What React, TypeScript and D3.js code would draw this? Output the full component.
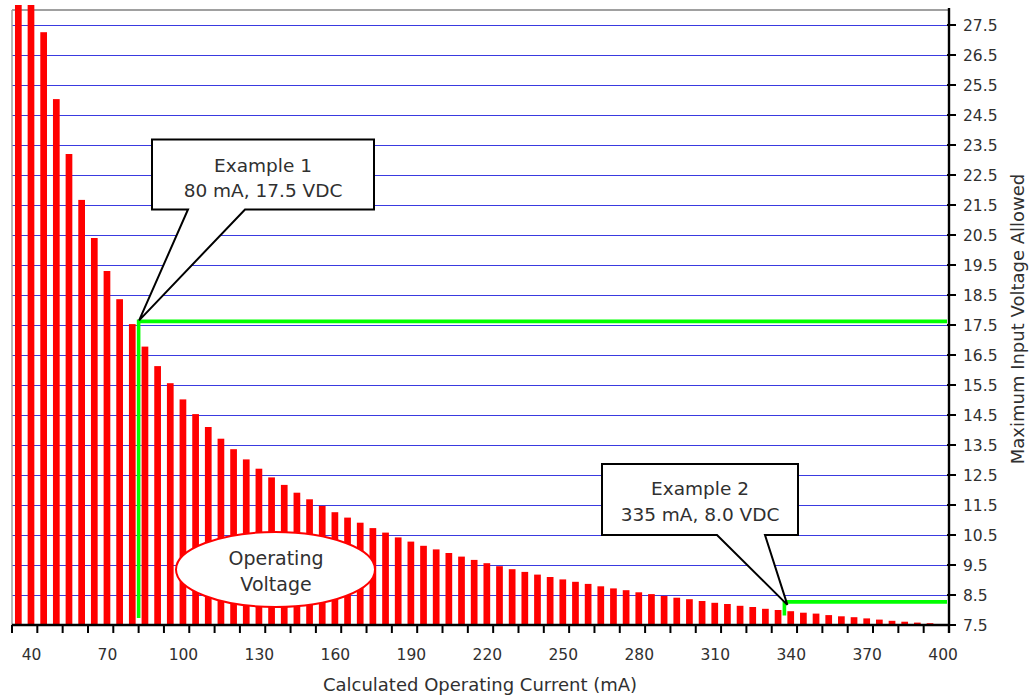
import React from 'react';
import * as d3 from 'd3';

const currents = [
  35, 40, 45, 50, 55, 60, 65, 70, 75, 80, 85, 90, 95, 100, 105, 110, 115, 120, 125, 130,
  135, 140, 145, 150, 155, 160, 165, 170, 175, 180, 185, 190, 195, 200, 205, 210, 215, 220,
  225, 230, 235, 240, 245, 250, 255, 260, 265, 270, 275, 280, 285, 290, 295, 300, 305, 310,
  315, 320, 325, 330, 335, 340, 345, 350, 355, 360, 365, 370, 375, 380, 385, 390, 395, 400,
];

const voltages = [
  33.6, 30.0, 27.26, 25.03, 23.2, 21.67, 20.4, 19.3, 18.36, 17.53, 16.78, 16.13, 15.56, 15.02,
  14.53, 14.1, 13.71, 13.36, 13.02, 12.71, 12.42, 12.17, 11.91, 11.69, 11.47, 11.26, 11.08,
  10.91, 10.73, 10.58, 10.42, 10.28, 10.14, 10.02, 9.9, 9.78, 9.67, 9.56, 9.46, 9.36, 9.27,
  9.18, 9.1, 9.02, 8.94, 8.87, 8.79, 8.72, 8.66, 8.59, 8.53, 8.47, 8.41, 8.36, 8.3, 8.24, 8.2,
  8.14, 8.1, 8.04, 8.0, 7.96, 7.91, 7.88, 7.83, 7.79, 7.76, 7.72, 7.68, 7.64, 7.61, 7.58, 7.56,
  7.53,
];

const xTickLabels = [40, 70, 100, 130, 160, 190, 220, 250, 280, 310, 340, 370, 400];
const yTicks = [
  7.5, 8.5, 9.5, 10.5, 11.5, 12.5, 13.5, 14.5, 15.5, 16.5, 17.5, 18.5, 19.5, 20.5, 21.5, 22.5,
  23.5, 24.5, 25.5, 26.5, 27.5,
];
const gridValues = yTicks.slice(1);

// annotations: current, stated voltage, drawn level of the marker line
const example1 = { current: 80, voltage: 17.5, level: 17.62 };
const example2 = { current: 335, voltage: 8.0, level: 8.27 };

const W = 1036;
const H = 698;
const P = { left: 12, right: 949, top: 10, bottom: 625 };
const FONT = "'DejaVu Sans', Verdana, sans-serif";
const TXT = '#303030';

export default function App() {
  const x = d3
    .scaleBand<number>()
    .domain(currents)
    .range([P.left, P.right])
    .paddingInner(0.47)
    .paddingOuter(0.235);
  const y = d3.scaleLinear().domain([7.5, 28]).range([P.bottom, P.top]);
  const bw = x.bandwidth();
  const step = x.step();
  const halfGap = (step - bw) / 2;

  const tickXs: number[] = [];
  currents.forEach((c, i) => {
    if (i % 2 === 0) tickXs.push((x(c) as number) - halfGap);
  });
  tickXs.push(P.right);

  const data = currents.map((c, i) => ({ c, v: voltages[i] }));

  const ex1x = (x(example1.current) as number) + bw + halfGap;
  const ex1y = y(example1.level);
  const ex2x = (x(example2.current) as number) + bw + halfGap;
  const ex2y = y(example2.level);

  const callout = (l: number, t: number, r: number, b: number, tl: number, tr: number, px: number, py: number) =>
    `M${l},${t}L${r},${t}L${r},${b}L${tr},${b}L${px},${py}L${tl},${b}L${l},${b}Z`;

  return (
    <svg
      width={W}
      height={H}
      style={{ position: 'absolute', left: 0, top: 0, background: '#fff' }}
      fontFamily={FONT}
    >
      <defs>
        <clipPath id="barclip">
          <rect x={P.left} y={P.top - 5} width={P.right - P.left} height={P.bottom - P.top + 5} />
        </clipPath>
      </defs>
      <rect x={0} y={0} width={W} height={H} fill="#fff" />

      {/* grid */}
      {gridValues.map((g) => (
        <line
          key={g}
          x1={P.left}
          x2={P.right - 2}
          y1={y(g) + 0.5}
          y2={y(g) + 0.5}
          stroke="#3a3ae0"
          strokeWidth={1}
          shapeRendering="crispEdges"
        />
      ))}

      {/* plot border (gray) */}
      <line x1={P.left} x2={P.right} y1={P.top} y2={P.top} stroke="#a0a0a0" strokeWidth={2} />
      <line x1={P.left} x2={P.left} y1={P.top} y2={P.bottom} stroke="#a0a0a0" strokeWidth={1.5} />

      {/* bars */}
      <g clipPath="url(#barclip)">
        {data.map((d) => (
          <rect
            key={d.c}
            x={x(d.c)}
            y={y(d.v)}
            width={bw}
            height={P.bottom - y(d.v)}
            fill="#ff0000"
          />
        ))}
      </g>

      {/* green marker lines */}
      <path
        d={`M${ex1x},${P.bottom - 7}L${ex1x},${ex1y}L${P.right - 2},${ex1y}`}
        fill="none"
        stroke="#00ff00"
        strokeWidth={3.6}
      />
      <path
        d={`M${ex2x},${P.bottom - 9.5}L${ex2x},${ex2y}L${P.right - 2},${ex2y}`}
        fill="none"
        stroke="#00ff00"
        strokeWidth={3.6}
      />

      {/* axes */}
      <line x1={P.left} x2={P.right + 1} y1={P.bottom} y2={P.bottom} stroke="#000" strokeWidth={2.6} />
      {tickXs.map((t, i) => (
        <line key={i} x1={t} x2={t} y1={P.bottom} y2={P.bottom + 8} stroke="#000" strokeWidth={2} />
      ))}
      <line x1={P.right} x2={P.right} y1={P.top - 2} y2={P.bottom + 8} stroke="#000" strokeWidth={2.4} />
      {yTicks.map((t) => (
        <line key={t} x1={P.right - 2} x2={P.right + 7} y1={y(t)} y2={y(t)} stroke="#000" strokeWidth={2} />
      ))}
      {yTicks.map((t) => (
        <text key={t} x={963} y={y(t) + 6} fontSize={15.5} fill={TXT}>
          {t.toFixed(1)}
        </text>
      ))}
      {xTickLabels.map((t) => (
        <text key={t} x={(x(t) as number) + bw / 2 + 0.5} y={660} fontSize={15.5} fill={TXT} textAnchor="middle">
          {t}
        </text>
      ))}
      <text x={480} y={691} fontSize={18} fill={TXT} textAnchor="middle">
        Calculated Operating Current (mA)
      </text>
      <text
        transform={`translate(1024,319) rotate(-90)`}
        fontSize={18}
        fill={TXT}
        textAnchor="middle"
      >
        Maximum Input Voltage Allowed
      </text>

      {/* ellipse */}
      <ellipse cx={275.5} cy={569.5} rx={99.5} ry={37.5} fill="#fff" stroke="#ff0000" strokeWidth={2} />
      <text x={276} y={565} fontSize={19} fill={TXT} textAnchor="middle">
        Operating
      </text>
      <text x={276} y={591} fontSize={19} fill={TXT} textAnchor="middle">
        Voltage
      </text>

      {/* callouts */}
      <path
        d={callout(152, 139.5, 374, 209.5, 188, 245, ex1x + 0.5, ex1y - 1)}
        fill="#fff"
        stroke="#000"
        strokeWidth={2}
        strokeLinejoin="miter"
      />
      <text x={263} y={171.5} fontSize={18.5} fill={TXT} textAnchor="middle">
        Example 1
      </text>
      <text x={263} y={197} fontSize={18.5} fill={TXT} textAnchor="middle">
        {`${example1.current} mA, ${example1.voltage.toFixed(1)} VDC`}
      </text>

      <path
        d={callout(602, 464, 798, 535, 717, 765, ex2x + 3, ex2y + 3)}
        fill="#fff"
        stroke="#000"
        strokeWidth={2}
        strokeLinejoin="miter"
      />
      <text x={700} y={494.5} fontSize={18.5} fill={TXT} textAnchor="middle">
        Example 2
      </text>
      <text x={700} y={521} fontSize={18.5} fill={TXT} textAnchor="middle">
        {`${example2.current} mA, ${example2.voltage.toFixed(1)} VDC`}
      </text>
    </svg>
  );
}
